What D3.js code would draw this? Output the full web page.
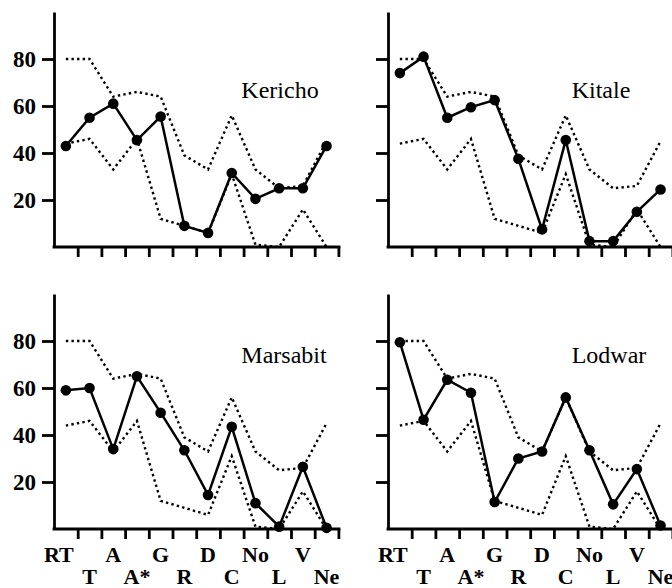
<!DOCTYPE html>
<html>
<head>
<meta charset="utf-8">
<script src="https://cdn.jsdelivr.net/npm/d3@7"></script>
<style>
  body { margin: 0; background: #fff; }
  svg { display: block; }
  text { font-family: "Liberation Serif", "Times New Roman", serif; fill: #000; }
</style>
</head>
<body>
<div id="chart"></div>
<script>
// categories on the x axis
var CATEGORIES = ["RT", "T", "A", "A*", "G", "R", "D", "C", "No", "L", "V", "Ne"];
// reference band (dotted lines), same in every panel
var UPPER = [80, 80, 64, 66, 64, 39, 33, 56, 33, 25, 26, 45];
var LOWER = [44, 46, 33, 46, 12, 9, 6, 31, 1, 0, 16, 0];
// station values (solid line)
var KERICHO = [43, 55, 61, 45.5, 55.5, 9, 6, 31.5, 20.5, 25, 25, 43];
var KITALE = [74, 81, 55, 59.5, 62.5, 37.5, 7.5, 45.5, 2.5, 2.5, 15, 24.5];
var MARSABIT = [59, 60, 34, 65, 49.5, 33.5, 14.5, 43.5, 11, 1, 26.5, 0.5];
var LODWAR = [79.5, 46.5, 63.5, 58, 11.5, 30, 33, 56, 33.5, 10.5, 25.5, 1.5];
var STATIONS = ["Kericho", "Kitale", "Marsabit", "Lodwar"];
var Y_TICKS = [20, 40, 60, 80];

function drawChart() {
    var svg = d3.select("#chart").append("svg")
        .attr("width", 672)
        .attr("height", 588);

    var series = [KERICHO, KITALE, MARSABIT, LODWAR];
    // panel layout: left edge of y axis, baseline, title position
    var panels = [
        { x0: 54, base: 247, tx: 226, ty: 98, yLabels: true, xLabels: false },
        { x0: 388, base: 247, tx: 213, ty: 98, yLabels: false, xLabels: false },
        { x0: 54, base: 529, tx: 230, ty: 363, yLabels: true, xLabels: true },
        { x0: 388, base: 529, tx: 221, ty: 363, yLabels: false, xLabels: true }
    ];
    var bw = 23.7;
    var plotW = bw * CATEGORIES.length;

    panels.forEach(function (p, k) {
        var g = svg.append("g");

        // x band scale, marks sit in band centres
        var x = d3.scaleBand()
            .domain(CATEGORIES)
            .range([p.x0, p.x0 + plotW]);
        var cx = function (d, i) { return x(CATEGORIES[i]) + x.bandwidth() / 2; };
        // tick marks sit at band right edges
        var xt = d3.scalePoint()
            .domain(CATEGORIES)
            .range([p.x0 + bw, p.x0 + plotW]);

        var y = d3.scaleLinear()
            .domain([0, 100])
            .range([p.base, p.base - 235]);

        // y axis
        var yAxis = g.append("g")
            .attr("transform", "translate(" + p.x0 + ",0)")
            .call(d3.axisLeft(y).tickValues(Y_TICKS).tickSize(12).tickSizeOuter(0).tickPadding(6));
        yAxis.selectAll("path, line").attr("stroke", "#000").attr("stroke-width", 2.8);
        yAxis.selectAll("text")
            .style("font-family", "'Liberation Serif', serif")
            .style("font-size", "23px")
            .style("font-weight", "bold")
            .text(function (d) { return p.yLabels ? d : ""; });

        // x axis ticks
        var xAxis = g.append("g")
            .attr("transform", "translate(0," + p.base + ")")
            .call(d3.axisBottom(xt).tickSize(10).tickSizeOuter(0).tickFormat(""));
        xAxis.select(".domain").remove();
        xAxis.selectAll("line").attr("stroke", "#000").attr("stroke-width", 2.8);
        // baseline
        g.append("line")
            .attr("x1", p.x0 - 1.4)
            .attr("x2", p.x0 + plotW + 2)
            .attr("y1", p.base)
            .attr("y2", p.base)
            .attr("stroke", "#000")
            .attr("stroke-width", 2.8);

        // category labels in two rows
        if (p.xLabels) {
            g.selectAll(".cat")
                .data(CATEGORIES)
                .enter()
                .append("text")
                .attr("class", "cat")
                .attr("x", cx)
                .attr("dx", function (d, i) { return i === 0 ? -7 : 0; })
                .attr("y", function (d, i) { return i % 2 === 0 ? p.base + 33 : p.base + 55; })
                .attr("text-anchor", "middle")
                .style("font-size", "22px")
                .style("font-weight", "bold")
                .text(function (d) { return d; });
        }

        var line = d3.line()
            .x(cx)
            .y(function (d) { return y(d); });

        // dotted reference lines
        [UPPER, LOWER].forEach(function (b) {
            g.append("path")
                .datum(b)
                .attr("d", line)
                .attr("fill", "none")
                .attr("stroke", "#000")
                .attr("stroke-width", 2.4)
                .attr("stroke-dasharray", "2.4 3.2");
        });

        // station line with dots
        g.append("path")
            .datum(series[k])
            .attr("d", line)
            .attr("fill", "none")
            .attr("stroke", "#000")
            .attr("stroke-width", 2.5);
        g.selectAll(".dot")
            .data(series[k])
            .enter()
            .append("circle")
            .attr("class", "dot")
            .attr("cx", cx)
            .attr("cy", function (d) { return y(d); })
            .attr("r", 5.3)
            .attr("fill", "#000");

        // station name
        g.append("text")
            .attr("x", p.x0 + p.tx)
            .attr("y", p.ty)
            .attr("text-anchor", "middle")
            .style("font-size", "24px")
            .text(STATIONS[k]);
    });
}

window.onload = function () {
    drawChart();
};
</script>
</body>
</html>
